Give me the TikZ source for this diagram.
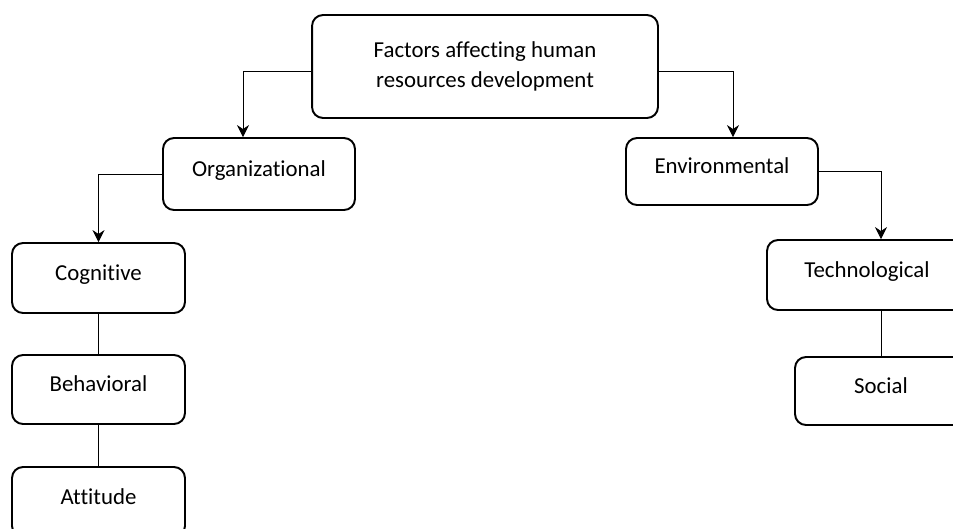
\documentclass[tikz,border=0pt]{standalone}
\usepackage{fontspec}
\setmainfont{Carlito}[Ligatures=NoCommon]
\usetikzlibrary{arrows.meta, positioning}

\begin{document}
\begin{tikzpicture}[
	x=0.02cm, y=-0.02cm,
	box/.style={draw, line width=1.1pt, rounded corners=0.22cm, minimum width=3.46cm, minimum height=1.4cm, align=center, font=\fontsize{13}{17.5}\selectfont},
	item/.style={box, text height=1ex, text depth=0.5ex},
	>={Stealth[length=0.24cm, width=0.24cm, inset=0.08cm]}
	]
	\useasboundingbox (0,0) rectangle (953,528);
	\clip (0,0) rectangle (953,528);
	\node[box, minimum width=6.92cm, minimum height=2.06cm] (top) at (485,66.5) {Factors affecting human\\resources development};
	\node[item, minimum width=3.84cm, minimum height=1.44cm] (org) at (259,174) {Organizational};
	\node[item, minimum width=3.84cm, minimum height=1.34cm] (env) at (722,171.5) {Environmental};
	\node[item] (cog) at (98.5,278) {Cognitive};
	\node[item, minimum height=1.38cm] (beh) at (98.5,389.5) {Behavioral};
	\node[item] (att) at (98.5,502) {Attitude};
	\node[item, minimum width=4cm] (tech) at (867,275) {Technological};
	\node[item, minimum width=3.44cm, minimum height=1.36cm] (soc) at (881,391) {Social};
	
	\draw[->] ([yshift=-0.1cm]top.west) -| ([xshift=-0.32cm]org.north);
	\draw[->] ([yshift=-0.1cm]top.east) -| ([xshift=0.22cm]env.north);
	\draw[->] (org.west) -| (cog.north);
	\draw (cog.south) -- (beh.north);
	\draw (beh.south) -- (att.north);
	\draw[->] (env.east) -| (soc.north |- tech.north);
	\draw (soc.north |- tech.south) -- (soc.north);
\end{tikzpicture}
\end{document}
